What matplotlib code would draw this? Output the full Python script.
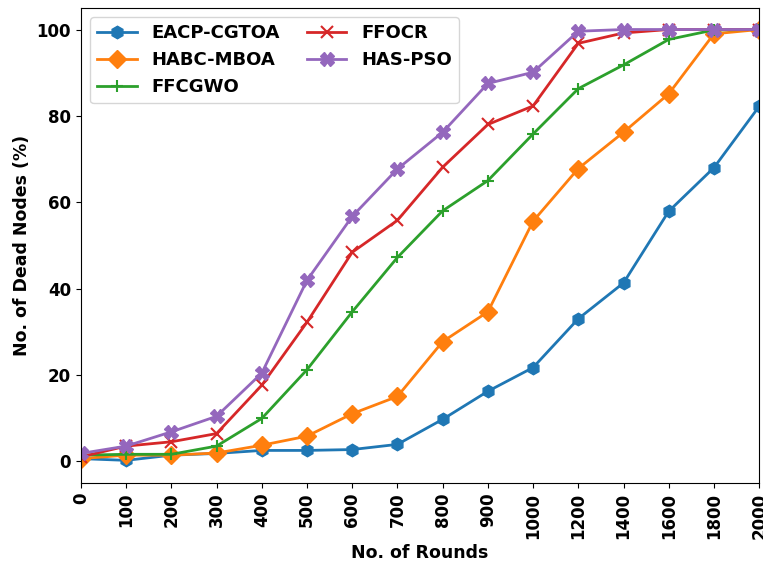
import matplotlib
matplotlib.use('Agg')
import matplotlib.pyplot as plt

# Rounds (categorical positions on the x axis)
rounds = ['0', '100', '200', '300', '400', '500', '600', '700', '800',
          '900', '1000', '1200', '1400', '1600', '1800', '2000']

# Percentage of dead nodes per protocol
eacp_cgtoa = [0.6, 0.2, 1.4, 1.8, 2.5, 2.5, 2.7, 3.9, 9.7, 16.2, 21.7, 33.0, 41.3, 57.9, 68.0, 82.2]
habc_mboa = [0.6, 1.4, 1.4, 1.9, 3.7, 5.8, 11.0, 15.0, 27.7, 34.6, 55.6, 67.8, 76.2, 85.1, 99.0, 100.0]
ffcgwo = [1.4, 1.6, 1.6, 3.5, 9.9, 21.2, 34.6, 47.2, 58.0, 65.0, 75.8, 86.3, 91.8, 97.7, 99.9, 100.0]
ffocr = [1.0, 3.5, 4.5, 6.4, 17.6, 32.2, 48.4, 55.8, 68.1, 78.0, 82.3, 96.8, 99.2, 100.0, 100.0, 100.0]
has_pso = [1.8, 3.5, 6.8, 10.4, 20.4, 41.9, 56.7, 67.7, 76.2, 87.5, 90.1, 99.6, 100.0, 100.0, 100.0, 100.0]

x = list(range(len(rounds)))

fig = plt.figure(figsize=(7.63, 5.66), dpi=100)
ax = fig.add_axes([0.106, 0.147, 0.889, 0.839])

ax.plot(x, eacp_cgtoa, marker='h', markersize=9, linewidth=2, color='#1f77b4', label='EACP-CGTOA')
ax.plot(x, habc_mboa, marker='D', markersize=9, linewidth=2, color='#ff7f0e', label='HABC-MBOA')
ax.plot(x, ffcgwo, marker='+', markersize=9, markeredgewidth=1.5, linewidth=2, color='#2ca02c', label='FFCGWO')
ax.plot(x, ffocr, marker='x', markersize=9, markeredgewidth=1.5, linewidth=2, color='#d62728', label='FFOCR')
ax.plot(x, has_pso, marker='X', markersize=10, linewidth=2, color='#9467bd', label='HAS-PSO')

ax.set_xlim(0, len(rounds) - 1)
ax.set_ylim(-5, 105)
ax.set_xticks(x)
ax.set_xticklabels(rounds, rotation=90, fontsize=12, fontweight='bold')
ax.set_yticks([0, 20, 40, 60, 80, 100])
ax.tick_params(axis='y', labelsize=12)
for lbl in ax.get_yticklabels():
    lbl.set_fontweight('bold')

ax.set_xlabel('No. of Rounds', fontsize=12.5, fontweight='bold')
ax.set_ylabel('No. of Dead Nodes (%)', fontsize=12.5, fontweight='bold')

ax.legend(loc='upper left', ncol=2, prop={'size': 13, 'weight': 'bold'},
          handlelength=2.2, columnspacing=1.5)

fig.savefig('out.png', dpi=100)
